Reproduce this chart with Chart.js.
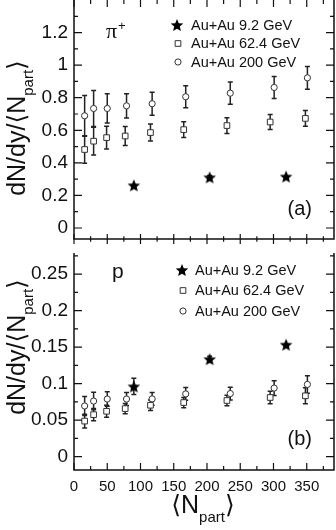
<!DOCTYPE html>
<html>
<head>
<meta charset="utf-8">
<script src="https://cdn.jsdelivr.net/npm/chart.js@4.4.0/dist/chart.umd.min.js"></script>
<style>
html, body { margin: 0; padding: 0; background: #fff; }
#wrap { position: relative; width: 336px; height: 530px; overflow: hidden; font-family: "Liberation Sans", "DejaVu Sans", sans-serif; color: #111; }
#cA { position: absolute; left: 0; top: 0; }
#cB { position: absolute; left: 0; top: 250px; }
.title { position: absolute; white-space: nowrap; font-size: 25px; line-height: 29px; transform: translate(-50%, -50%) rotate(-90deg); }
.title .sub { font-size: 15px; position: relative; top: 8px; }
.xtitle { position: absolute; white-space: nowrap; font-size: 25px; line-height: 29px; transform: translate(-50%, -50%); }
.xtitle .sub { font-size: 15px; position: relative; top: 9px; }
</style>
</head>
<body>
<div id="wrap">
  <canvas id="cA" width="336" height="250"></canvas>
  <canvas id="cB" width="336" height="280"></canvas>
  <div class="title" style="left:18px; top:128px;">dN/dy/⟨N<span class="sub">part</span>⟩</div>
  <div class="title" style="left:18px; top:347px;">dN/dy/⟨N<span class="sub">part</span>⟩</div>
  <div class="xtitle" style="left:203px; top:506px;">⟨N<span class="sub">part</span>⟩</div>
</div>
<script>
// valeurs
const legendLabels = ['Au+Au 9.2 GeV', 'Au+Au 62.4 GeV', 'Au+Au 200 GeV'];

const nPart9 = [90, 204, 319];
const nPart62 = [16, 29.5, 49, 77, 115, 165, 230, 295, 348];
const nPart200 = [16, 29.5, 50, 79, 117.5, 168, 235, 301, 351];

// pi+
const pion9 = [0.262, 0.311, 0.316];
const pion9Err = [0, 0.012, 0];
const pion62 = [0.482, 0.533, 0.555, 0.565, 0.586, 0.604, 0.629, 0.651, 0.673];
const pion62Err = [0.085, 0.085, 0.07, 0.058, 0.052, 0.048, 0.048, 0.046, 0.048];
const pion200 = [0.689, 0.734, 0.734, 0.750, 0.763, 0.806, 0.828, 0.863, 0.922];
const pion200Err = [0.125, 0.11, 0.09, 0.075, 0.07, 0.067, 0.068, 0.068, 0.07];

// p
const proton9 = [0.0963, 0.1336, 0.1535];
const proton9Err = [0.011, 0.004, 0];
const proton62 = [0.0488, 0.0576, 0.0622, 0.0659, 0.0705, 0.0742, 0.077, 0.0811, 0.0834];
const proton62Err = [0.0095, 0.0083, 0.0083, 0.007, 0.0072, 0.007, 0.0072, 0.0085, 0.011];
const proton200 = [0.0695, 0.0762, 0.079, 0.079, 0.0792, 0.086, 0.0865, 0.094, 0.099];
const proton200Err = [0.013, 0.012, 0.010, 0.009, 0.0088, 0.0088, 0.0088, 0.010, 0.012];

// axes
const xTicks = [0, 50, 100, 150, 200, 250, 300, 350];
const xMinorTicks = [25, 75, 125, 175, 225, 275, 325, 375];
const yTicksPion = [0, 0.2, 0.4, 0.6, 0.8, 1, 1.2];
const yMinorPion = [0.1, 0.3, 0.5, 0.7, 0.9, 1.1, 1.3];
const yTicksProton = [0, 0.05, 0.1, 0.15, 0.2, 0.25];
const yMinorProton = [0.025, 0.075, 0.125, 0.175, 0.225, 0.275];

const FONT = '"Liberation Sans", "DejaVu Sans", sans-serif';
const INK = '#111';

function starImage(R) {
    const size = Math.ceil(R * 2) + 2;
    const c = document.createElement('canvas');
    c.width = size; c.height = size;
    const g = c.getContext('2d');
    const cx = size / 2, cy = size / 2 + R * 0.1, r = R * 0.45;
    g.beginPath();
    for (let k = 0; k < 10; k++) {
        const a = -Math.PI / 2 + k * Math.PI / 5;
        const rr = k % 2 ? r : R;
        g.lineTo(cx + rr * Math.cos(a), cy + rr * Math.sin(a));
    }
    g.closePath();
    g.fillStyle = '#000';
    g.fill();
    return c;
}
const STAR = starImage(6.6);

function pts(xs, ys) { return xs.map((x, i) => ({x: x, y: ys[i]})); }

function makeSets(y9, e9, y62, e62, y200, e200) {
    return [
        {label: legendLabels[0], data: pts(nPart9, y9), errs: e9, pointStyle: STAR, pointRadius: 6,
         backgroundColor: '#000', borderColor: '#000', borderWidth: 0},
        {label: legendLabels[2], data: pts(nPart200, y200), errs: e200, pointStyle: 'circle', pointRadius: 3.1,
         backgroundColor: '#fff', borderColor: '#333', borderWidth: 1},
        {label: legendLabels[1], data: pts(nPart62, y62), errs: e62, pointStyle: 'rect', pointRadius: 4,
         backgroundColor: '#fff', borderColor: '#333', borderWidth: 1}
    ];
}

// cadre, graduations, barres d'erreur, légende
const decor = {
    id: 'decor',
    beforeDatasetsDraw(chart) {
        const ctx = chart.ctx, xs = chart.scales.x, ys = chart.scales.y;
        ctx.save();
        ctx.strokeStyle = '#222';
        ctx.lineWidth = 1.5;
        chart.data.datasets.forEach(ds => {
            ds.data.forEach((p, i) => {
                const e = ds.errs[i];
                if (!e) return;
                const px = xs.getPixelForValue(p.x);
                const top = ys.getPixelForValue(p.y + e), bot = ys.getPixelForValue(p.y - e);
                ctx.beginPath();
                ctx.moveTo(px, top); ctx.lineTo(px, bot);
                ctx.moveTo(px - 2.5, top); ctx.lineTo(px + 2.5, top);
                ctx.moveTo(px - 2.5, bot); ctx.lineTo(px + 2.5, bot);
                ctx.stroke();
            });
        });
        ctx.restore();
    },
    afterDatasetsDraw(chart, args, o) {
        const ctx = chart.ctx, a = chart.chartArea, xs = chart.scales.x, ys = chart.scales.y;
        ctx.save();
        ctx.strokeStyle = INK;
        ctx.lineWidth = 1.5;
        ctx.beginPath();
        ctx.moveTo(a.left, a.top); ctx.lineTo(a.left, a.bottom);
        ctx.lineTo(a.right, a.bottom); ctx.lineTo(a.right, a.top);
        ctx.stroke();

        ctx.lineWidth = 1.2;
        ctx.beginPath();
        const yTick = (v, len) => {
            const py = ys.getPixelForValue(v);
            ctx.moveTo(a.left, py); ctx.lineTo(a.left + len, py);
            ctx.moveTo(a.right, py); ctx.lineTo(a.right - len, py);
        };
        o.yMajor.forEach(v => yTick(v, 8));
        o.yMinor.forEach(v => yTick(v, 4));
        const xTick = (v, len) => {
            const px = xs.getPixelForValue(v);
            if (o.topTicks) { ctx.moveTo(px, a.top); ctx.lineTo(px, a.top + len); }
            if (o.crossBottom) { ctx.moveTo(px, a.bottom - len * 0.7); ctx.lineTo(px, a.bottom + len * 0.7); }
            else { ctx.moveTo(px, a.bottom); ctx.lineTo(px, a.bottom - len); }
        };
        xTicks.forEach(v => xTick(v, 7));
        xMinorTicks.forEach(v => xTick(v, 4));
        ctx.stroke();

        // légende
        const order = [0, 2, 1];
        ctx.font = '14.5px ' + FONT;
        ctx.textBaseline = 'middle';
        order.forEach((d, i) => {
            const ds = chart.data.datasets[d];
            const y = o.legY[i];
            ctx.fillStyle = ds.backgroundColor;
            ctx.strokeStyle = ds.borderColor;
            ctx.lineWidth = ds.borderWidth;
            Chart.helpers.drawPoint(ctx, {pointStyle: ds.pointStyle, radius: ds.pointRadius, borderWidth: ds.borderWidth, rotation: 0},
                o.legMarkX + (d === 0 ? 0 : 1), y);
            ctx.fillStyle = INK;
            ctx.fillText(ds.label, o.legTextX, y + 0.5);
        });

        // étiquettes du panneau
        ctx.textBaseline = 'alphabetic';
        ctx.fillStyle = INK;
        if (o.species === 'pi') {
            ctx.font = '22px "Liberation Serif", serif';
            ctx.fillText('π', 106, 38);
            ctx.font = '13px ' + FONT;
            ctx.fillText('+', 118, 30);
        } else {
            ctx.font = '21px ' + FONT;
            ctx.fillText('p', 112, 28);
        }
        ctx.font = '20px ' + FONT;
        ctx.textAlign = 'right';
        ctx.fillText(o.tag, 312, o.tagY);
        ctx.restore();
    }
};

const fmt = v => String(parseFloat(Number(v).toFixed(3)));

function yScale(min, max, ticks) {
    return {
        type: 'linear', min: min, max: max,
        grid: {display: false, drawTicks: false},
        border: {display: false},
        afterFit: s => { s.width = 74; s.paddingTop = 0; s.paddingBottom = 0; },
        afterBuildTicks: s => { s.ticks = ticks.map(v => ({value: v})); },
        ticks: {padding: 6, color: INK, font: {family: FONT, size: 19}, callback: fmt}
    };
}

new Chart(document.getElementById('cA'), {
    type: 'scatter',
    data: {datasets: makeSets(pion9, pion9Err, pion62, pion62Err, pion200, pion200Err)},
    options: {
        responsive: false, animation: false,
        layout: {autoPadding: false, padding: {top: 0, right: 2, bottom: 11, left: 0}},
        plugins: {
            legend: {display: false}, tooltip: {enabled: false},
            decor: {yMajor: yTicksPion, yMinor: yMinorPion, topTicks: true, crossBottom: true,
                    legY: [25, 43.5, 62], legMarkX: 177, legTextX: 191, species: 'pi', tag: '(a)', tagY: 215}
        },
        scales: {
            x: {type: 'linear', min: 0, max: 391, display: false},
            y: yScale(-0.0675, 1.4, yTicksPion)
        }
    },
    plugins: [decor]
});

new Chart(document.getElementById('cB'), {
    type: 'scatter',
    data: {datasets: makeSets(proton9, proton9Err, proton62, proton62Err, proton200, proton200Err)},
    options: {
        responsive: false, animation: false,
        layout: {autoPadding: false, padding: {top: 3, right: 2, bottom: 0, left: 0}},
        plugins: {
            legend: {display: false}, tooltip: {enabled: false},
            decor: {yMajor: yTicksProton, yMinor: yMinorProton, topTicks: false, crossBottom: false,
                    legY: [20, 40.5, 61], legMarkX: 182, legTextX: 195, species: 'p', tag: '(b)', tagY: 195}
        },
        scales: {
            x: {
                type: 'linear', min: 0, max: 391,
                grid: {display: false, drawTicks: false},
                border: {display: false},
                afterFit: s => { s.height = 60; s.paddingLeft = 0; s.paddingRight = 0; },
                afterBuildTicks: s => { s.ticks = xTicks.map(v => ({value: v})); },
                ticks: {padding: 8, color: INK, maxRotation: 0, autoSkip: false, font: {family: FONT, size: 15}, callback: fmt}
            },
            y: yScale(-0.0182, 0.279, yTicksProton)
        }
    },
    plugins: [decor]
});
</script>
</body>
</html>
